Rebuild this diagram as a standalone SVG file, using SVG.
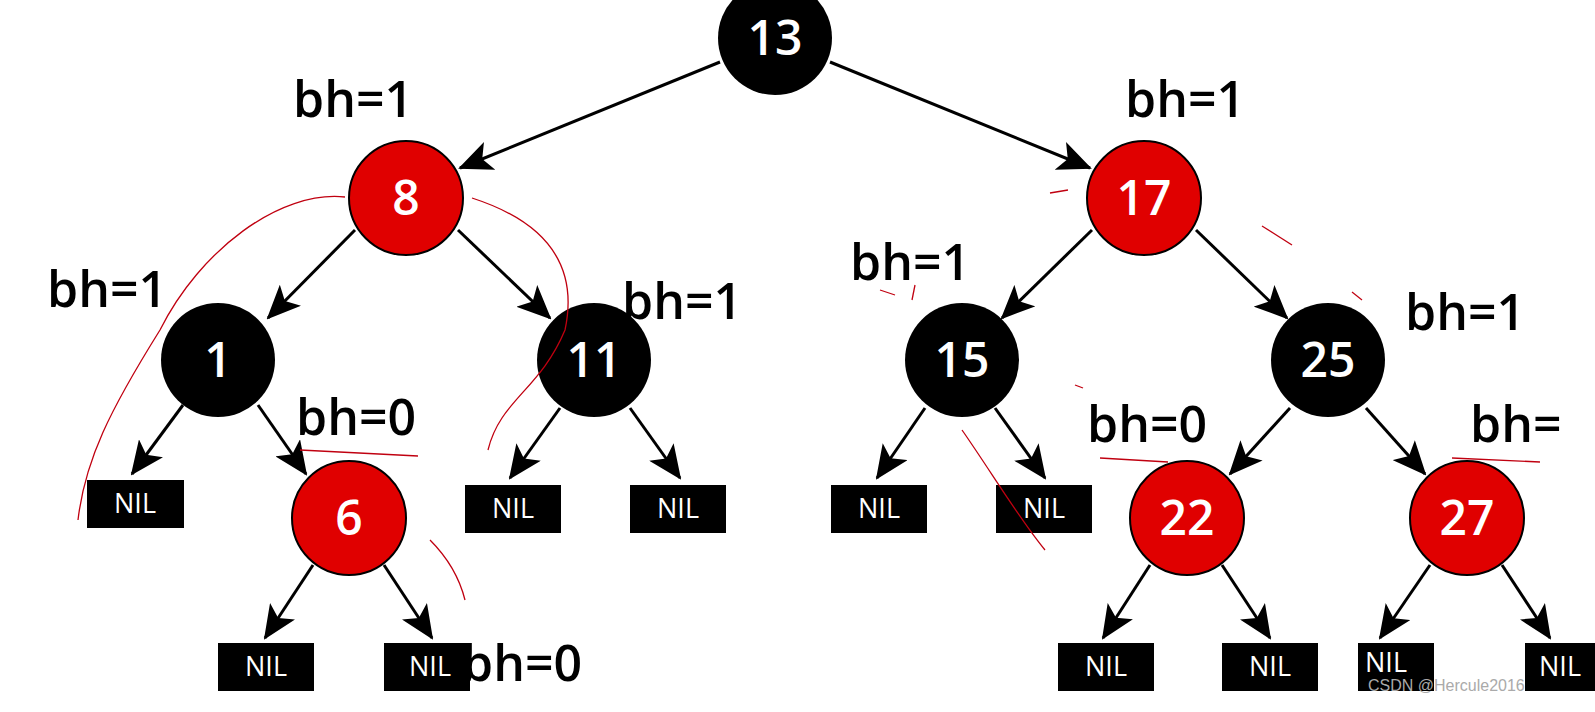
<svg xmlns="http://www.w3.org/2000/svg" width="1595" height="712" viewBox="0 0 1595 712">
<style>
.b{fill:#000}.r{fill:#e00000;stroke:#000;stroke-width:2}
.t{font-family:"Open Sans","Liberation Sans",sans-serif;fill:#fff;font-size:48px;text-anchor:middle;font-weight:600}
.n{font-family:"Open Sans","Liberation Sans",sans-serif;fill:#fff;font-size:27px;text-anchor:middle}
.l{font-family:"Open Sans","Liberation Sans",sans-serif;fill:#000;font-size:50px;font-weight:600}
.e{stroke:#000;stroke-width:3;fill:none;marker-end:url(#a)}
.h{stroke:#c00010;stroke-width:1.3;fill:none}
</style>
<defs><marker id="a" markerUnits="userSpaceOnUse" markerWidth="34" markerHeight="30" refX="32" refY="15" orient="auto"><path d="M0,0 L34,15 L0,30 L8,15 Z" fill="#000"/></marker></defs>
<rect width="1595" height="712" fill="#fff"/>
<g id="edges">
<line class="e" x1="720" y1="62" x2="460" y2="168"/><line class="e" x1="830" y1="62" x2="1090" y2="168"/>
<line class="e" x1="355" y1="230" x2="268" y2="318"/><line class="e" x1="458" y1="230" x2="550" y2="318"/>
<line class="e" x1="1092" y1="230" x2="1002" y2="318"/><line class="e" x1="1196" y1="230" x2="1287" y2="318"/>
<line class="e" x1="183" y1="405" x2="132" y2="474"/><line class="e" x1="258" y1="405" x2="306" y2="474"/>
<line class="e" x1="560" y1="408" x2="510" y2="478"/><line class="e" x1="630" y1="408" x2="680" y2="478"/>
<line class="e" x1="925" y1="408" x2="877" y2="478"/><line class="e" x1="995" y1="408" x2="1045" y2="478"/>
<line class="e" x1="1290" y1="408" x2="1230" y2="474"/><line class="e" x1="1366" y1="408" x2="1425" y2="474"/>
<line class="e" x1="313" y1="565" x2="265" y2="638"/><line class="e" x1="384" y1="565" x2="432" y2="638"/>
<line class="e" x1="1150" y1="565" x2="1103" y2="638"/><line class="e" x1="1222" y1="565" x2="1270" y2="638"/>
<line class="e" x1="1430" y1="565" x2="1380" y2="638"/><line class="e" x1="1502" y1="565" x2="1550" y2="638"/>
</g>
<g id="n13"><circle class="b" cx="775" cy="38" r="57"/><text class="t" x="775" y="55">13</text></g>
<g id="n8"><circle class="r" cx="406" cy="198" r="57"/><text class="t" x="406" y="215">8</text></g>
<g id="n17"><circle class="r" cx="1144" cy="198" r="57"/><text class="t" x="1144" y="215">17</text></g>
<g id="n1"><circle class="b" cx="218" cy="360" r="57"/><text class="t" x="218" y="377">1</text></g>
<g id="n11"><circle class="b" cx="594" cy="360" r="57"/><text class="t" x="594" y="377">11</text></g>
<g id="n15"><circle class="b" cx="962" cy="360" r="57"/><text class="t" x="962" y="377">15</text></g>
<g id="n25"><circle class="b" cx="1328" cy="360" r="57"/><text class="t" x="1328" y="377">25</text></g>
<g id="n6"><circle class="r" cx="349" cy="518" r="57"/><text class="t" x="349" y="535">6</text></g>
<g id="n22"><circle class="r" cx="1187" cy="518" r="57"/><text class="t" x="1187" y="535">22</text></g>
<g id="n27"><circle class="r" cx="1467" cy="518" r="57"/><text class="t" x="1467" y="535">27</text></g>
<g id="nils">
<rect class="b" x="87" y="480" width="97" height="48"/><text class="n" x="135" y="513">NIL</text>
<rect class="b" x="465" y="485" width="96" height="48"/><text class="n" x="513" y="518">NIL</text>
<rect class="b" x="630" y="485" width="96" height="48"/><text class="n" x="678" y="518">NIL</text>
<rect class="b" x="831" y="485" width="96" height="48"/><text class="n" x="879" y="518">NIL</text>
<rect class="b" x="996" y="485" width="96" height="48"/><text class="n" x="1044" y="518">NIL</text>
<rect class="b" x="218" y="643" width="96" height="48"/><text class="n" x="266" y="676">NIL</text>
<rect class="b" x="384" y="643" width="86" height="48"/><text class="n" x="430" y="676">NIL</text>
<rect class="b" x="1058" y="643" width="96" height="48"/><text class="n" x="1106" y="676">NIL</text>
<rect class="b" x="1222" y="643" width="96" height="48"/><text class="n" x="1270" y="676">NIL</text>
<rect class="b" x="1358" y="643" width="76" height="48"/><text class="n" x="1386" y="672">NIL</text>
<rect class="b" x="1525" y="643" width="80" height="48"/><text class="n" x="1560" y="676">NIL</text>
</g>
<g id="labels">
<text class="l" x="293" y="117">bh=1</text><text class="l" x="1125" y="117">bh=1</text>
<text class="l" x="47" y="307">bh=1</text><text class="l" x="622" y="319">bh=1</text>
<text class="l" x="850" y="280">bh=1</text><text class="l" x="1405" y="330">bh=1</text>
<text class="l" x="296" y="435">bh=0</text><text class="l" x="1087" y="442">bh=0</text>
<text class="l" x="1470" y="442">bh=</text><text class="l" x="462" y="681">bh=0</text>
<text x="1368" y="691" font-family="Liberation Sans,sans-serif" font-size="16" fill="#aaa">CSDN @Hercule2016</text>
</g>
<g id="strokes">
<path class="h" d="M345,197 C280,190 200,250 160,330 C110,410 85,460 78,520"/>
<path class="h" d="M472,198 C540,220 580,260 565,330 C540,390 500,400 488,450"/>
<path class="h" d="M300,450 L418,456"/><path class="h" d="M1100,458 L1168,462"/><path class="h" d="M1452,458 L1540,462"/>
<path class="h" d="M962,430 C990,470 1020,520 1045,550"/>
<path class="h" d="M430,540 C450,560 460,580 465,600"/>
<path class="h" d="M1050,193 L1068,190"/><path class="h" d="M1262,226 L1292,245"/><path class="h" d="M880,290 L895,295"/><path class="h" d="M915,285 L912,300"/>
<path class="h" d="M1352,292 L1362,300"/><path class="h" d="M1075,385 L1083,388"/>
</g>
</svg>
